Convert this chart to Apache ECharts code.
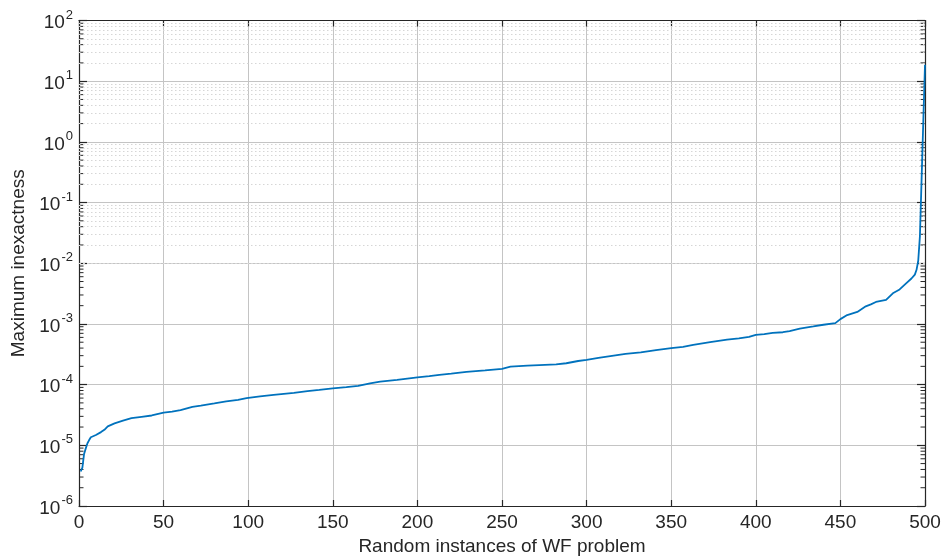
<!DOCTYPE html>
<html>
<head>
<meta charset="utf-8">
<script src="https://cdn.jsdelivr.net/npm/echarts@6/dist/echarts.min.js"></script>
<style>
html,body{margin:0;padding:0;background:#fff;}
#chart{width:943px;height:556px;}
</style>
</head>
<body>
<div id="chart"></div>
<script>
// Data
var instanceIdx = [1,2,3,4,5,6,7,10,13,15,17,21,26,31,37,43,50,55,60,67,72,80,87,94,99,107,115,127,135,142,150,158,165,172,178,188,200,207,213,220,229,240,250,255,265,272,282,288,295,300,307,314,323,332,341,350,357,363,373,383,390,396,400,405,410,416,420,426,434,440,447,450,454,460,465,468,471,477,481,485,489,492,494,495,496,497,498,499,500];
var inexactness = [3.7e-6,4.3e-6,7.2e-6,8.9e-6,1.08e-5,1.22e-5,1.36e-5,1.48e-5,1.65e-5,1.8e-5,2.05e-5,2.3e-5,2.55e-5,2.8e-5,2.95e-5,3.1e-5,3.45e-5,3.6e-5,3.8e-5,4.3e-5,4.5e-5,4.9e-5,5.3e-5,5.6e-5,6.0e-5,6.4e-5,6.8e-5,7.3e-5,7.8e-5,8.2e-5,8.7e-5,9.1e-5,9.5e-5,1.05e-4,1.12e-4,1.2e-4,1.32e-4,1.38e-4,1.45e-4,1.52e-4,1.62e-4,1.72e-4,1.82e-4,1.98e-4,2.05e-4,2.1e-4,2.15e-4,2.25e-4,2.45e-4,2.55e-4,2.75e-4,2.95e-4,3.2e-4,3.4e-4,3.7e-4,4.0e-4,4.2e-4,4.5e-4,5.0e-4,5.5e-4,5.8e-4,6.1e-4,6.6e-4,6.8e-4,7.1e-4,7.3e-4,7.6e-4,8.4e-4,9.1e-4,9.7e-4,1.03e-3,1.2e-3,1.4e-3,1.58e-3,1.95e-3,2.1e-3,2.3e-3,2.5e-3,3.2e-3,3.7e-3,4.7e-3,5.6e-3,6.5e-3,7.8e-3,1.1e-2,2.8e-2,0.25,2.2,18.6];
var xTicks = [0,50,100,150,200,250,300,350,400,450,500];
var decadeExponents = [-6,-5,-4,-3,-2,-1,0,1,2];
var minorMultipliers = [2,3,4,5,6,7,8,9];
var xLabel = 'Random instances of WF problem';
var yLabel = 'Maximum inexactness';

var seriesData = instanceIdx.map(function(x, i){ return [x, inexactness[i]]; });
var minorValues = [];
decadeExponents.slice(0, -1).forEach(function(e){
  minorMultipliers.forEach(function(m){ minorValues.push(m * Math.pow(10, e)); });
});

var FONT = '"Liberation Sans", Arial, Helvetica, sans-serif';
var TXT = '#262626';
var axisLineStyle = {color: '#262626', width: 1.2};
var majorGrid = {show: true, lineStyle: {color: '#c4c4c4', width: 1, type: 'solid'}};

function supLabel(v){
  var e = Math.round(Math.log(v) / Math.LN10);
  return '{b|10}{s|' + e + '}';
}
var richLabel = {
  b: {fontSize: 19, fontFamily: FONT, color: TXT, lineHeight: 24, verticalAlign: 'bottom'},
  s: {fontSize: 13, fontFamily: FONT, color: TXT, lineHeight: 14, verticalAlign: 'top', padding: [0,0,0,1]}
};

var chart = echarts.init(document.getElementById('chart'), null, {renderer: 'canvas'});
chart.setOption({
  animation: false,
  backgroundColor: '#ffffff',
  grid: {left: 79, right: 18, top: 20.5, bottom: 50, containLabel: false, outerBoundsMode: 'none'},
  xAxis: [{
    type: 'value', min: xTicks[0], max: xTicks[xTicks.length-1], interval: 50,
    position: 'bottom',
    name: xLabel, nameLocation: 'middle', nameGap: 31,
    nameTextStyle: {fontSize: 19, fontFamily: FONT, color: TXT},
    axisLine: {show: true, onZero: false, lineStyle: axisLineStyle},
    axisTick: {show: true, inside: true, length: 6, lineStyle: axisLineStyle},
    axisLabel: {fontSize: 19, fontFamily: FONT, color: TXT, margin: 7},
    splitLine: majorGrid
  },{
    type: 'value', min: xTicks[0], max: xTicks[xTicks.length-1], interval: 50,
    position: 'top',
    axisLine: {show: true, onZero: false, lineStyle: axisLineStyle},
    axisTick: {show: true, inside: true, length: 6, lineStyle: axisLineStyle},
    axisLabel: {show: false},
    splitLine: {show: false}
  }],
  yAxis: [{
    type: 'log', logBase: 10, min: 1e-6, max: 1e2, splitNumber: 8,
    position: 'left',
    name: yLabel, nameLocation: 'middle', nameGap: 47, nameRotate: 90,
    nameTextStyle: {fontSize: 19, fontFamily: FONT, color: TXT},
    axisLine: {show: true, onZero: false, lineStyle: axisLineStyle},
    axisTick: {show: true, inside: true, length: 8, lineStyle: axisLineStyle},
    axisLabel: {formatter: supLabel, rich: richLabel, margin: 6},
    splitLine: majorGrid
  },{
    type: 'log', logBase: 10, min: 1e-6, max: 1e2, splitNumber: 8,
    position: 'right',
    axisLine: {show: true, onZero: false, lineStyle: axisLineStyle},
    axisTick: {show: true, inside: true, length: 8, lineStyle: axisLineStyle},
    axisLabel: {show: false},
    splitLine: {show: false}
  }],
  series: [{
    type: 'custom',
    xAxisIndex: 0, yAxisIndex: 0,
    silent: true, z: 1,
    data: minorValues.map(function(v){ return [v]; }),
    renderItem: function(params, api){
      var v = api.value(0);
      var p = api.coord([xTicks[0], v]);
      var q = api.coord([xTicks[xTicks.length-1], v]);
      var st = {stroke: '#262626', lineWidth: 1};
      return {type: 'group', children: [
        {type: 'line', shape: {x1: p[0], y1: p[1], x2: p[0]+4.5, y2: p[1]}, style: st},
        {type: 'line', shape: {x1: q[0]-4.5, y1: q[1], x2: q[0], y2: q[1]}, style: st}
      ]};
    },
    encode: {y: 0}
  },{
    type: 'line',
    xAxisIndex: 0, yAxisIndex: 0,
    data: seriesData,
    showSymbol: false, symbol: 'none',
    lineStyle: {color: '#0072BD', width: 1.8},
    z: 5,
    markLine: {
      silent: true, symbol: ['none','none'], label: {show: false},
      lineStyle: {color: '#d6d6d6', width: 1, type: [1.5, 2.5]},
      data: minorValues.map(function(v){ return {yAxis: v}; }),
      animation: false
    }
  }]
});
</script>
</body>
</html>
